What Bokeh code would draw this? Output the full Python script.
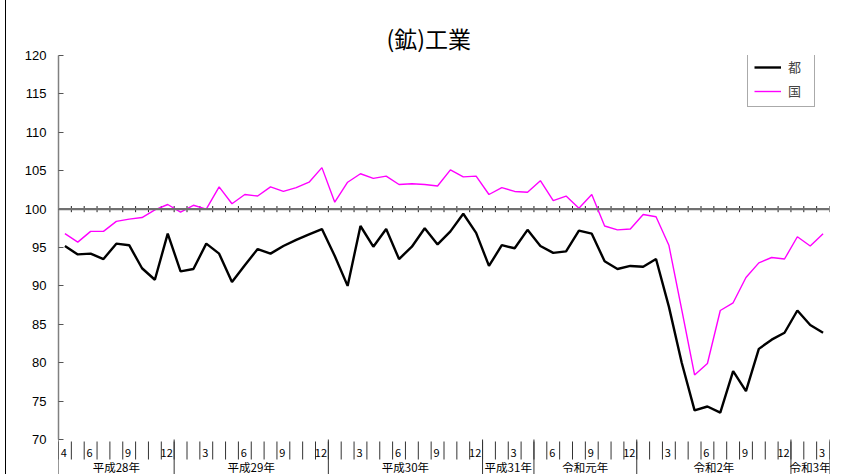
from bokeh.plotting import figure
from bokeh.models import Range1d, FixedTicker, Span, ColumnDataSource, Legend, LegendItem
from bokeh.core.properties import value
from bokeh.embed import file_html
from bokeh.resources import INLINE

# ---- data -------------------------------------------------------------
months = [4, 5, 6, 7, 8, 9, 10, 11, 12,
          1, 2, 3, 4, 5, 6, 7, 8, 9, 10, 11, 12,
          1, 2, 3, 4, 5, 6, 7, 8, 9, 10, 11, 12,
          1, 2, 3, 4,
          5, 6, 7, 8, 9, 10, 11, 12,
          1, 2, 3, 4, 5, 6, 7, 8, 9, 10, 11, 12,
          1, 2, 3]

year_names = ["平成28年", "平成29年", "平成30年", "平成31年", "令和元年", "令和2年", "令和3年"]
year_months = [9, 12, 12, 4, 8, 12, 3]

tokyo = [95.2, 94.1, 94.2, 93.5, 95.5, 95.3, 92.3, 90.8, 96.8,
         91.9, 92.2, 95.5, 94.2, 90.5, 92.7, 94.8, 94.2, 95.2, 96.0, 96.7, 97.4,
         93.9, 90.0, 97.8, 95.1, 97.4, 93.5, 95.1, 97.5, 95.4, 97.1, 99.4, 96.9,
         92.6, 95.3, 94.9, 97.3,
         95.2, 94.3, 94.5, 97.2, 96.8, 93.2, 92.2, 92.6,
         92.5, 93.5, 87.3, 80.0, 73.8, 74.3, 73.5, 78.9, 76.3, 81.8, 83.0, 83.9,
         86.8, 84.9, 83.9]

national = [96.8, 95.7, 97.1, 97.1, 98.4, 98.7, 98.9, 99.9, 100.6,
            99.6, 100.5, 100.0, 102.9, 100.7, 101.9, 101.7, 102.9, 102.3, 102.8, 103.5, 105.4,
            100.9, 103.5, 104.6, 104.0, 104.3, 103.2, 103.3, 103.2, 103.0, 105.1, 104.2, 104.3,
            101.9, 102.8, 102.3, 102.2,
            103.7, 101.1, 101.7, 100.1, 101.9, 97.8, 97.3, 97.4,
            99.3, 99.0, 95.3, 86.9, 78.4, 79.9, 86.8, 87.8, 91.1, 93.0, 93.7, 93.5,
            96.4, 95.2, 96.8]

y_ticks = [70, 75, 80, 85, 90, 95, 100, 105, 110, 115, 120]
series_names = ["都", "国"]
title_text = "(鉱)工業"

# ---- layout constants (pixels) -----------------------------------------
W, H = 858, 474
FRAME_L, FRAME_R, FRAME_T = 52, 823, 55
PX_PER_UNIT = (439 - 55) / 50.0
Y_MIN_AXIS, Y_MAX = 70, 120
Y_BOTTOM = Y_MIN_AXIS - (H - 439) / PX_PER_UNIT


def below(px):
    """data y for a point px pixels below the 70 gridline"""
    return Y_MIN_AXIS - px / PX_PER_UNIT


n = len(months)
xc = [i + 0.5 for i in range(n)]
boundaries = list(range(n + 1))
year_bounds = [0]
for m in year_months:
    year_bounds.append(year_bounds[-1] + m)
year_centers = [(year_bounds[k] + year_bounds[k + 1]) / 2 for k in range(len(year_names))]

mlab_x, mlab_t = [], []
for i, m in enumerate(months):
    if i == 0 or m in (3, 6, 9, 12):
        mlab_x.append(xc[i])
        mlab_t.append(str(m))

CJK = "Noto Sans CJK JP"

p = figure(width=W, height=H, x_range=Range1d(0, n), y_range=Range1d(Y_BOTTOM, Y_MAX),
           output_backend="svg", toolbar_location=None, x_axis_location=None,
           min_border_left=FRAME_L, min_border_right=W - FRAME_R,
           min_border_top=FRAME_T, min_border_bottom=0)
p.styles = {"margin-left": "5px", "border-left": "1px solid black"}
p.outline_line_color = None
p.xgrid.visible = False
p.ygrid.visible = False
p.background_fill_color = "white"

p.title.text = title_text
p.title.align = "left"
p.title.offset = 328
p.title.text_font = CJK
p.title.text_font_size = "23px"
p.title.text_font_style = "normal"
p.title.text_color = "#000000"
p.title.standoff = 2

ya = p.yaxis[0]
ya.ticker = FixedTicker(ticks=y_ticks)
ya.bounds = (Y_MIN_AXIS, Y_MAX)
ya.major_tick_in = 5
ya.major_tick_out = 0
ya.minor_tick_in = 0
ya.minor_tick_out = 0
ya.axis_line_color = "#808080"
ya.axis_line_width = 1.5
ya.major_tick_line_color = "#555555"
ya.major_label_text_font = "Liberation Sans"
ya.major_label_text_font_size = "13px"
ya.major_label_text_color = "#000000"
ya.major_label_standoff = 12

# reference line at 100 with month ticks
p.add_layout(Span(location=100, dimension="width", line_color="#707070", line_width=2.2))
p.segment(x0=boundaries, y0=[99.6] * len(boundaries), x1=boundaries, y1=[100.4] * len(boundaries),
          line_color="#222222", line_width=1)

# category area below the plot: month separators, year separators, labels
p.segment(x0=boundaries, y0=[below(2)] * len(boundaries), x1=boundaries,
          y1=[below(20)] * len(boundaries), line_color="#333333", line_width=1)
p.segment(x0=year_bounds, y0=[Y_MIN_AXIS] * len(year_bounds), x1=year_bounds,
          y1=[Y_BOTTOM] * len(year_bounds), line_color="#333333", line_width=1)
p.text(x=mlab_x, y=[below(13)] * len(mlab_x), text=mlab_t, text_align="center",
       text_baseline="middle", text_font=value(CJK), text_font_size="11px",
       text_color="#000000", x_offset=-1)
p.text(x=year_centers, y=[below(27.5)] * len(year_centers), text=year_names,
       text_align="center", text_baseline="middle", text_font=value(CJK),
       text_font_size="11.5px", text_color="#000000")

src = ColumnDataSource(dict(x=xc, tokyo=tokyo, national=national))
r1 = p.line("x", "tokyo", source=src, line_color="#000000", line_width=2.4)
r2 = p.line("x", "national", source=src, line_color="#ff00ff", line_width=1.4)

legend = Legend(items=[LegendItem(label=series_names[0], renderers=[r1]),
                       LegendItem(label=series_names[1], renderers=[r2])],
                location=(747 - 6 - FRAME_L, H - 107), padding=6, margin=0, spacing=5,
                glyph_width=27, glyph_height=14, label_height=14, label_standoff=7,
                label_text_font=CJK, label_text_font_size="13px",
                border_line_color="#555555", border_line_width=1.2,
                background_fill_color="white", background_fill_alpha=1)
p.add_layout(legend)

open("out.html", "w").write(file_html(p, INLINE))
